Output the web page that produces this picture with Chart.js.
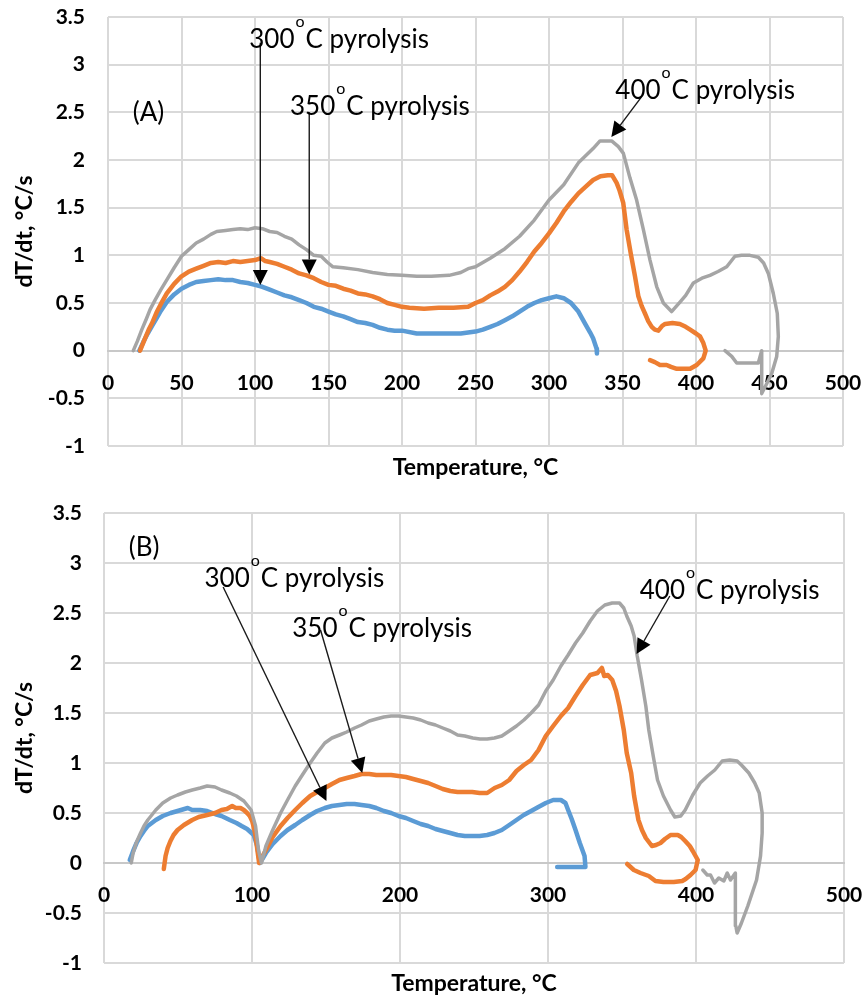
<!DOCTYPE html>
<html><head><meta charset="utf-8">
<script src="https://cdn.jsdelivr.net/npm/chart.js@4.4.1/dist/chart.umd.min.js"></script>
<style>
html,body{margin:0;padding:0;background:#fff;}
canvas{position:absolute;left:0;display:block;}
#ca{top:0;}
#cb{top:495px;}
</style></head><body>
<canvas id="ca" width="864" height="495"></canvas>
<canvas id="cb" width="864" height="508"></canvas>
<script>
// ---------- DATA: [temperature °C, dT/dt °C/s] ----------
const seriesNames = ['300°C pyrolysis', '350°C pyrolysis', '400°C pyrolysis'];
const seriesColors = ['#5B9BD5', '#ED7D31', '#A5A5A5'];

// Panel (A)
const a300 = [[21.3,0],[24,0.09],[27,0.18],[30,0.26],[33,0.34],[36,0.42],[40,0.51],[45,0.59],[50,0.65],[55,0.69],[60,0.72],[65,0.73],[70,0.74],[75,0.75],[80,0.74],[85,0.74],[90,0.72],[95,0.71],[100,0.69],[105,0.67],[110,0.64],[115,0.61],[120,0.58],[125,0.56],[130,0.53],[135,0.5],[140,0.46],[145,0.44],[150,0.41],[155,0.38],[160,0.36],[165,0.33],[170,0.3],[175,0.29],[180,0.27],[185,0.24],[190,0.22],[195,0.21],[200,0.21],[210,0.18],[220,0.18],[230,0.18],[240,0.18],[250,0.2],[255,0.22],[260,0.25],[265,0.28],[270,0.32],[275,0.36],[280,0.41],[285,0.46],[290,0.5],[295,0.53],[300,0.55],[305,0.57],[310,0.55],[315,0.5],[320,0.41],[325,0.27],[328,0.19],[330,0.13],[332.4,0.02],[332.6,-0.03]];
const a350 = [[21.8,0],[25,0.12],[28,0.23],[30,0.29],[33,0.4],[36,0.49],[40,0.6],[45,0.7],[50,0.78],[55,0.83],[60,0.86],[65,0.89],[70,0.92],[75,0.93],[80,0.92],[85,0.94],[90,0.93],[95,0.94],[100,0.95],[104,0.97],[107,0.94],[110,0.93],[115,0.91],[120,0.88],[125,0.85],[130,0.81],[135,0.79],[140,0.76],[145,0.72],[150,0.69],[155,0.68],[160,0.65],[165,0.63],[170,0.6],[175,0.59],[180,0.57],[185,0.54],[190,0.5],[195,0.48],[200,0.46],[205,0.45],[215,0.44],[225,0.45],[235,0.45],[245,0.46],[250,0.5],[255,0.53],[260,0.58],[265,0.62],[270,0.67],[275,0.74],[280,0.83],[285,0.93],[290,1.04],[295,1.13],[300,1.23],[305,1.34],[310,1.46],[315,1.56],[320,1.65],[325,1.72],[330,1.79],[335,1.83],[340,1.84],[343,1.84],[346,1.76],[348,1.68],[350.5,1.55],[352.8,1.27],[355.6,1.02],[358.5,0.78],[360.8,0.57],[363,0.47],[365.3,0.39],[367.5,0.31],[369.9,0.25],[372,0.22],[374.4,0.21],[377,0.26],[379,0.28],[384,0.29],[389,0.28],[393,0.25],[396,0.22],[400,0.18],[402.7,0.15],[405,0.08],[406.6,0],[405,-0.08],[400.5,-0.15],[396,-0.19],[391,-0.19],[386.9,-0.19],[383,-0.17],[380,-0.15],[375.5,-0.15],[372,-0.12],[368.7,-0.1]];
const a400 = [[17.2,0],[20,0.1],[23,0.22],[26,0.33],[28.6,0.43],[32,0.53],[36,0.64],[39.9,0.74],[45,0.87],[50,0.99],[55,1.06],[60,1.13],[65,1.17],[70,1.22],[74,1.25],[80,1.26],[85,1.27],[90,1.28],[95,1.27],[100,1.29],[105,1.28],[110,1.25],[115,1.24],[120,1.2],[125,1.17],[130,1.11],[135,1.06],[140,1.0],[145,0.99],[149,0.93],[153,0.88],[160,0.87],[170,0.85],[180,0.82],[190,0.8],[200,0.79],[210,0.78],[220,0.78],[232,0.79],[240,0.82],[245,0.86],[250,0.88],[260,0.97],[270,1.07],[280,1.2],[290,1.37],[300,1.58],[310,1.74],[320,1.97],[330,2.12],[334.7,2.2],[342.6,2.2],[347.2,2.14],[350.6,2.07],[355.1,1.81],[359.6,1.58],[364.2,1.27],[368.7,0.95],[373.3,0.67],[377.8,0.5],[383.4,0.41],[389.1,0.51],[393,0.58],[398.2,0.71],[404,0.76],[409.5,0.79],[415,0.83],[420.9,0.88],[426.5,0.99],[431,1.0],[436.7,1.0],[442.4,0.98],[446,0.92],[449.2,0.81],[452.6,0.6],[455.3,0.39],[456,0.15],[454.9,-0.06],[451.5,-0.24],[448,-0.35],[444.7,-0.45],[444.7,0],[442.4,-0.13],[435,-0.13],[427.7,-0.13],[424.3,-0.06],[419.7,0]];

// Panel (B)
const b300 = [[17.4,0.03],[19.7,0.12],[22,0.2],[24.7,0.27],[27,0.32],[29.6,0.37],[35,0.43],[39.7,0.47],[45,0.5],[49.7,0.52],[56.6,0.55],[59.6,0.53],[65,0.53],[69.7,0.52],[75,0.49],[79.4,0.47],[85,0.43],[89.5,0.4],[93,0.37],[96.7,0.34],[101.2,0.28],[103.5,0.17],[105.3,0],[107,0.04],[109.4,0.1],[114,0.19],[119.3,0.27],[124,0.33],[129.2,0.38],[134,0.43],[139.3,0.48],[144,0.52],[149.2,0.55],[154,0.57],[159.1,0.58],[164,0.59],[169.3,0.59],[174,0.58],[179.2,0.57],[184,0.55],[189.1,0.52],[194,0.5],[199,0.47],[204,0.45],[208.9,0.42],[214,0.39],[219,0.37],[224,0.34],[228.9,0.32],[234,0.3],[238.9,0.28],[243.8,0.27],[248.8,0.27],[253.8,0.27],[258.9,0.28],[263.8,0.3],[268.8,0.33],[273.8,0.38],[278.7,0.43],[283.6,0.48],[288.6,0.52],[293.5,0.56],[298.5,0.6],[303.5,0.63],[308.7,0.63],[311.8,0.6],[313.6,0.53],[316,0.44],[318.6,0.33],[321.5,0.2],[324.7,0.07],[325.3,-0.04],[315,-0.04],[306.2,-0.04]];
const b350 = [[40.4,-0.06],[41.6,0.07],[43,0.15],[44.9,0.22],[47,0.28],[49.7,0.33],[54,0.38],[59.6,0.43],[64,0.46],[69.7,0.48],[75,0.5],[79.4,0.53],[83,0.54],[86.6,0.57],[89,0.55],[92.2,0.55],[94.5,0.53],[96.7,0.5],[98.5,0.47],[100.1,0.42],[101.3,0.35],[102.4,0.27],[103.9,0.1],[104.8,0],[106,0.04],[109.4,0.13],[114,0.26],[119.3,0.37],[124,0.45],[129.2,0.53],[134,0.6],[139.3,0.67],[144,0.71],[149.2,0.75],[154,0.79],[159.1,0.83],[164,0.85],[169.3,0.87],[174,0.89],[179.2,0.89],[184,0.88],[189.1,0.88],[194,0.88],[199,0.87],[204,0.86],[208.9,0.84],[214,0.82],[219,0.8],[224,0.77],[228.9,0.74],[234,0.72],[238.9,0.71],[243.8,0.71],[248.8,0.71],[253.8,0.7],[258.9,0.7],[263.9,0.75],[268.8,0.78],[273.8,0.83],[278.7,0.92],[283.7,0.98],[288.6,1.03],[293.6,1.13],[298.5,1.27],[303.5,1.37],[308.7,1.47],[313.6,1.55],[318.6,1.67],[323.5,1.78],[328.5,1.88],[333.4,1.9],[336.4,1.95],[338,1.87],[340.4,1.88],[343.4,1.83],[346,1.72],[348.3,1.57],[351.2,1.33],[353.2,1.1],[356.2,0.9],[358.2,0.67],[361.1,0.43],[363.5,0.33],[366.1,0.25],[370.2,0.17],[373,0.18],[376,0.2],[379,0.24],[382.8,0.28],[387.7,0.28],[390,0.26],[392.7,0.22],[395.8,0.17],[397.8,0.12],[401.2,0.03],[399.7,-0.07],[396.3,-0.12],[393,-0.16],[390.7,-0.18],[385,-0.19],[378,-0.19],[372.6,-0.18],[368.1,-0.13],[362.5,-0.1],[358,-0.07],[353.5,-0.01]];
const b400 = [[18.4,0],[19.7,0.1],[22,0.21],[24.7,0.3],[27,0.37],[29.6,0.43],[35,0.53],[39.7,0.6],[45,0.65],[49.7,0.68],[55,0.71],[59.6,0.73],[65,0.75],[69.7,0.77],[75,0.76],[79.4,0.73],[85,0.7],[89.5,0.67],[94.5,0.62],[99.4,0.53],[102.4,0.37],[104.4,0.13],[106.4,0],[109.4,0.17],[114,0.33],[119.3,0.5],[124,0.63],[129.2,0.77],[134,0.88],[139.3,1.0],[144,1.1],[149.2,1.2],[154,1.25],[159.1,1.28],[164,1.31],[169.3,1.35],[174,1.38],[179.2,1.42],[184,1.44],[189.1,1.46],[194,1.47],[199,1.47],[204,1.46],[208.9,1.45],[214,1.43],[219,1.4],[224,1.38],[228.9,1.35],[234,1.32],[238.9,1.28],[243.8,1.27],[249.2,1.25],[254,1.24],[258.9,1.24],[263.8,1.25],[268.8,1.27],[273.8,1.32],[278.7,1.37],[283.7,1.43],[288.6,1.5],[293.6,1.58],[298.5,1.72],[303.5,1.83],[308.7,1.97],[313.6,2.08],[318.6,2.2],[323.5,2.3],[328.5,2.42],[333.4,2.52],[338.4,2.58],[343.4,2.6],[348.3,2.6],[351.2,2.55],[353.2,2.47],[356.2,2.37],[358.2,2.27],[360.3,2.07],[363.2,1.83],[366.1,1.57],[368.1,1.33],[371.1,1.07],[374,0.83],[378,0.67],[382.8,0.53],[385.7,0.46],[389.7,0.47],[392.7,0.53],[397.8,0.68],[402.8,0.8],[407.8,0.87],[412.7,0.93],[417.7,1.02],[422.8,1.03],[427.8,1.02],[430.7,0.98],[435.7,0.9],[439.7,0.8],[442.7,0.7],[444.7,0.5],[444.7,0.3],[443.6,0.07],[440.9,-0.17],[435,-0.43],[430.7,-0.6],[427.8,-0.7],[426.9,-0.63],[426.6,-0.1],[423.3,-0.17],[421.1,-0.1],[418.8,-0.18],[415.4,-0.15],[412.5,-0.2],[409.8,-0.12],[407.6,-0.12],[404.6,-0.07]];

// Axis settings
const xMin = 0, xMax = 500;
const yMin = -1, yMax = 3.5, yStep = 0.5;
const xStepA = 50, xStepB = 100;
const xTitle = 'Temperature, °C';
const yTitle = 'dT/dt, °C/s';

// Annotations (anchored in data coordinates)
const notesA = {
  panel: {text: '(A)', x: 16.8, y: 2.41},
  labels: [
    {pre: '300', sup: 'o', post: 'C pyrolysis', x: 96.1, y: 3.17},
    {pre: '350', sup: 'o', post: 'C pyrolysis', x: 123.8, y: 2.47},
    {pre: '400', sup: 'o', post: 'C pyrolysis', x: 345.1, y: 2.64}
  ],
  arrows: [
    {from: [103.6, 3.23], to: [103.6, 0.69]},
    {from: [136.9, 2.50], to: [136.9, 0.80]},
    {from: [362.8, 2.66], to: [342.4, 2.24]}
  ]
};
const notesB = {
  panel: {text: '(B)', x: 16.8, y: 3.07},
  labels: [
    {pre: '300', sup: 'o', post: 'C pyrolysis', x: 67.9, y: 2.76},
    {pre: '350', sup: 'o', post: 'C pyrolysis', x: 127.2, y: 2.26},
    {pre: '400', sup: 'o', post: 'C pyrolysis', x: 362.0, y: 2.64}
  ],
  arrows: [
    {from: [80.5, 2.76], to: [150.3, 0.62]},
    {from: [146.3, 2.33], to: [174.5, 0.90]},
    {from: [382.3, 2.67], to: [359.8, 2.09]}
  ]
};

// ---------- RENDERING ----------
Chart.defaults.font.family = 'Lato';
Chart.defaults.color = '#000';

const annotPlugin = {
  id: 'annot',
  afterDraw(chart) {
    const notes = chart.options.plugins.annot;
    if (!notes) return;
    const {ctx} = chart;
    const xs = chart.scales.x, ys = chart.scales.y;
    ctx.save();
    ctx.textAlign = 'left';
    ctx.textBaseline = 'alphabetic';
    notes.arrows.forEach(a => {
      const x1 = xs.getPixelForValue(a.from[0]), y1 = ys.getPixelForValue(a.from[1]);
      const x2 = xs.getPixelForValue(a.to[0]), y2 = ys.getPixelForValue(a.to[1]);
      const ang = Math.atan2(y2 - y1, x2 - x1);
      const L = 15, W = 7.5;
      const bx = x2 - L * Math.cos(ang), by = y2 - L * Math.sin(ang);
      ctx.strokeStyle = '#1a1a1a';
      ctx.lineWidth = 1.4;
      ctx.beginPath(); ctx.moveTo(x1, y1); ctx.lineTo(bx, by); ctx.stroke();
      ctx.fillStyle = '#000';
      ctx.beginPath();
      ctx.moveTo(x2, y2);
      ctx.lineTo(bx + W * Math.sin(ang), by - W * Math.cos(ang));
      ctx.lineTo(bx - W * Math.sin(ang), by + W * Math.cos(ang));
      ctx.closePath(); ctx.fill();
    });
    ctx.fillStyle = '#000';
    notes.labels.forEach(l => {
      const px = xs.getPixelForValue(l.x), py = ys.getPixelForValue(l.y);
      ctx.font = '26px Lato';
      ctx.fillText(l.pre, px, py);
      let w = ctx.measureText(l.pre).width + 1;
      ctx.font = '16px Lato';
      ctx.fillText(l.sup, px + w, py - 21);
      w += ctx.measureText(l.sup).width + 1;
      ctx.font = '26px Lato';
      ctx.fillText(l.post, px + w, py);
    });
    const p = notes.panel;
    ctx.font = '26px Lato';
    ctx.fillText(p.text, xs.getPixelForValue(p.x), ys.getPixelForValue(p.y));
    ctx.restore();
  }
};

function toXY(arr) { return arr.map(p => ({x: p[0], y: p[1]})); }
function fmt(v) { return String(Math.round(v * 100) / 100); }

function makeChart(id, series, xStep, notes, L) {
  const widths = [4.5, 4.5, 3.5];
  const orders = [2, 1, 0];
  const tickFont = {family: 'Lato', size: 21, weight: 'bold'};
  const titleFont = {family: 'Lato', size: 23, weight: 'bold'};
  return new Chart(document.getElementById(id), {
    type: 'line',
    data: {
      datasets: series.map((s, i) => ({
        label: seriesNames[i],
        data: toXY(s),
        borderColor: seriesColors[i],
        backgroundColor: seriesColors[i],
        borderWidth: widths[i],
        pointRadius: 0,
        tension: 0,
        fill: false,
        order: orders[i],
        xAxisID: 'x', yAxisID: 'y',
        borderJoinStyle: 'round', borderCapStyle: 'round'
      }))
    },
    options: {
      responsive: false,
      animation: false,
      devicePixelRatio: 1,
      layout: {padding: {left: 0, top: L.top, right: L.right, bottom: 0}},
      plugins: {legend: {display: false}, tooltip: {enabled: false}, annot: notes},
      scales: {
        x: {
          type: 'linear', position: 'bottom', min: xMin, max: xMax,
          ticks: {display: false, stepSize: xStep},
          grid: {color: '#d9d9d9', lineWidth: 2, drawTicks: false},
          border: {display: false},
          title: {display: true, text: xTitle, color: '#000', font: titleFont,
                  padding: {top: 0, bottom: L.xtPad}},
          afterFit(s) { s.height = L.xh; s.paddingLeft = 0; s.paddingRight = 0; }
        },
        x2: {
          type: 'linear', axis: 'x', position: {y: 0}, min: xMin, max: xMax,
          ticks: {stepSize: xStep, padding: 20, color: '#000', autoSkip: false, maxRotation: 0,
                  font: tickFont, callback: fmt},
          grid: {display: false, drawTicks: false},
          border: {display: true, color: '#c8c8c8', width: 2},
          afterFit(s) { s.height = 0; s.paddingLeft = 0; s.paddingRight = 0; s.paddingTop = 0; s.paddingBottom = 0; }
        },
        y: {
          type: 'linear', position: 'left', min: yMin, max: yMax,
          ticks: {stepSize: yStep, padding: L.ypad, color: '#000', font: tickFont, callback: fmt},
          grid: {color: '#d9d9d9', lineWidth: 2, drawTicks: false},
          border: {display: false},
          title: {display: true, text: yTitle, color: '#000', font: titleFont,
                  padding: {top: 11, bottom: 0}},
          afterFit(s) { s.width = L.yw; s.paddingTop = 0; s.paddingBottom = 0; }
        }
      }
    },
    plugins: [annotPlugin]
  });
}

makeChart('ca', [a300, a350, a400], xStepA, notesA, {top: 17, right: 21, xh: 49, xtPad: 14, yw: 108, ypad: 23});
makeChart('cb', [b300, b350, b400], xStepB, notesB, {top: 18, right: 20, xh: 40, xtPad: 6, yw: 104, ypad: 22});
</script>
</body></html>
